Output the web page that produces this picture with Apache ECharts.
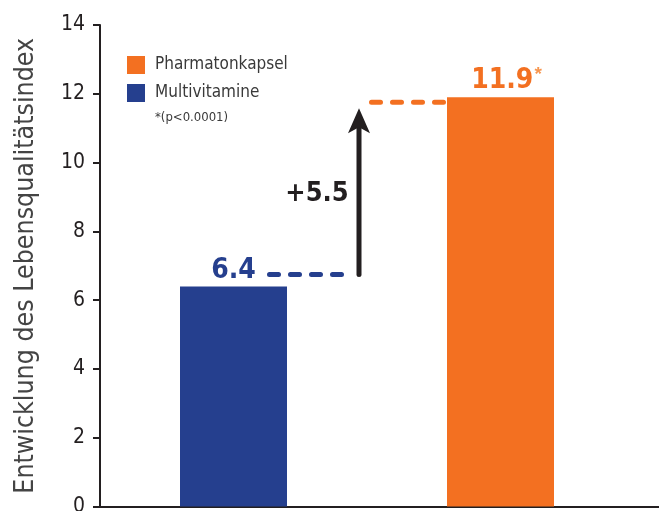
<!DOCTYPE html>
<html><head><meta charset="utf-8">
<script src="https://cdn.jsdelivr.net/npm/echarts@6/dist/echarts.min.js"></script>
<style>html,body{margin:0;padding:0;background:#fff}#c{width:659px;height:511px}</style>
</head><body><div id="c"></div>
<script>
// ---- data ----
const categories = ['Multivitamine', 'Pharmatonkapsel'];
const multivitamineValues = [6.4, null];
const pharmatonValues = [null, 11.9];
const legendOrder = ['Pharmatonkapsel', 'Multivitamine'];
const yMin = 0, yMax = 14, yStep = 2;
const diffLabel = '+5.5';
const pValueNote = '*(p<0.0001)';
const yAxisTitle = 'Entwicklung des Lebensqualitätsindex';

// ---- style ----
const BLUE = '#253F8E';
const ORANGE = '#F37021';
const INK = '#231F20';
const NARROW = '"Liberation Sans Narrow","DejaVu Sans Condensed","Roboto Condensed",sans-serif';

const chart = echarts.init(document.getElementById('c'), null, {renderer: 'canvas'});
const option = {
  animation: false,
  backgroundColor: '#fff',
  grid: {left: 100, right: 25, top: 25, bottom: 4.4, containLabel: false, outerBoundsMode: 'none'},
  legend: {
    data: legendOrder, orient: 'vertical', left: 127, top: 56, padding: 0,
    icon: 'rect', itemWidth: 18, itemHeight: 18, itemGap: 10,
    textStyle: {fontSize: 17, color: '#3a3a3a', fontFamily: NARROW, padding: [0, 0, 5, 5]}
  },
  xAxis: {
    type: 'category', data: categories,
    axisLine: {lineStyle: {color: INK, width: 2}},
    axisTick: {show: false}, axisLabel: {show: false}, splitLine: {show: false}
  },
  yAxis: {
    type: 'value', min: yMin, max: yMax, interval: yStep,
    name: yAxisTitle, nameLocation: 'middle', nameGap: 60,
    nameTextStyle: {fontSize: 26.5, color: '#444', fontFamily: NARROW, fontWeight: 'lighter'},
    axisLine: {show: true, lineStyle: {color: INK, width: 2}},
    axisTick: {show: true, length: 7, lineStyle: {color: INK, width: 2}},
    axisLabel: {fontSize: 21, color: INK, margin: 15, fontFamily: NARROW},
    splitLine: {show: false}
  },
  series: [
    {
      name: 'Multivitamine', type: 'bar', data: multivitamineValues,
      barWidth: 107, barGap: '-100%', itemStyle: {color: BLUE},
      label: {show: true, position: 'top', distance: 2, color: BLUE, fontSize: 28,
        fontWeight: 'bold', fontFamily: NARROW}
    },
    {
      name: 'Pharmatonkapsel', type: 'bar', data: pharmatonValues,
      barWidth: 107, barGap: '-100%', itemStyle: {color: ORANGE},
      label: {show: true, position: 'top', distance: 1, offset: [6, 0],
        formatter: p => '{v|' + p.value + '}{s|*}',
        rich: {
          v: {color: ORANGE, fontSize: 28, fontWeight: 'bold', fontFamily: NARROW},
          s: {color: '#F7964F', fontSize: 19, fontWeight: 'bold', verticalAlign: 'top', padding: [0, 0, 12, 1]}
        }}
    }
  ]
};
chart.setOption(option);

// overlay annotations placed via the chart's own scales
const pB = chart.convertToPixel({gridIndex: 0}, [categories[0], multivitamineValues[0]]);
const pO = chart.convertToPixel({gridIndex: 0}, [categories[1], pharmatonValues[1]]);
const p0 = chart.convertToPixel({gridIndex: 0}, [categories[1], 0]);
const gridRect = chart.getModel().getComponent('grid').coordinateSystem.getRect();
const yBlueDash = pB[1] - 12;
const yOrangeDash = pO[1] + 5;
const xArrow = pB[0] + 125.5;
const tipY = yOrangeDash + 6;
const axisY = Math.round(p0[1]);
const dashStyle = c => ({stroke: c, lineWidth: 5, lineDash: [9, 12], lineCap: 'round'});
chart.setOption({
  graphic: [
    {type: 'line', shape: {x1: gridRect.x + gridRect.width - 2, y1: axisY, x2: 659, y2: axisY},
      style: {stroke: INK, lineWidth: 2}},
    {type: 'line', shape: {x1: pB[0] + 36, y1: yBlueDash, x2: pB[0] + 108, y2: yBlueDash},
      style: dashStyle(BLUE)},
    {type: 'line', shape: {x1: pO[0] - 129, y1: yOrangeDash, x2: pO[0] - 57, y2: yOrangeDash},
      style: dashStyle(ORANGE)},
    {type: 'line', shape: {x1: xArrow, y1: yBlueDash, x2: xArrow, y2: tipY + 20},
      style: {stroke: INK, lineWidth: 5, lineCap: 'round'}},
    {type: 'polygon', shape: {points: [[xArrow, tipY], [xArrow + 11, tipY + 25], [xArrow, tipY + 19], [xArrow - 11, tipY + 25]]},
      style: {fill: INK}},
    {type: 'text', x: xArrow - 42, y: (yBlueDash + tipY) / 2 + 3,
      style: {text: diffLabel, fill: INK, fontSize: 27, fontWeight: 'bold', fontFamily: NARROW,
        align: 'center', verticalAlign: 'middle'}},
    {type: 'text', x: 155, y: 118,
      style: {text: pValueNote, fill: '#3a3a3a', fontSize: 13, fontFamily: NARROW,
        align: 'left', verticalAlign: 'middle'}}
  ]
});
</script>
</body></html>
